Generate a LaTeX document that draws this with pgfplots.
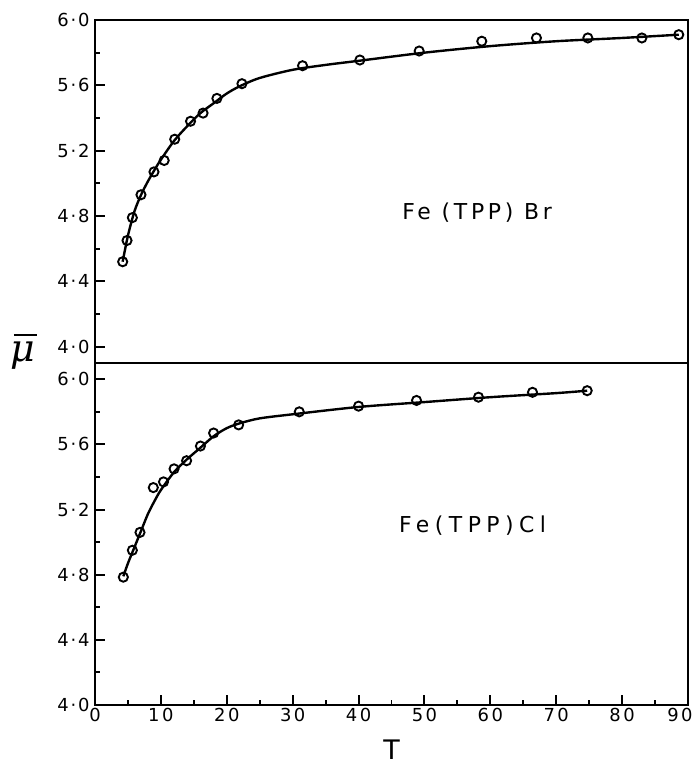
\documentclass[border=0pt]{standalone}
\usepackage{fontspec}
\setmainfont{DejaVu Sans}
\newfontfamily\serifit{DejaVu Serif}
\usepackage{pgfplots}
\pgfplotsset{compat=1.18}
\begin{document}
\begin{tikzpicture}
\useasboundingbox (-95bp,-61bp) rectangle (599bp,705bp);
\pgfplotsset{
  every axis/.append style={
    scale only axis, width=593bp, xmin=0, xmax=90,
    axis line style={line width=2.6pt},
    every tick/.style={line width=2pt, black},
    major tick length=10bp, minor tick length=5bp,
    tick align=inside,
    xticklabel style={font=\fontsize{18}{18}\selectfont\addfontfeature{LetterSpace=14}},
    yticklabel style={xshift=-2bp, font=\fontsize{18}{18}\selectfont\addfontfeature{LetterSpace=10}},
    clip=false,
    ytick={4.0,4.4,4.8,5.2,5.6,6.0},
    yticklabels={4·0,4·4,4·8,5·2,5·6,6·0},
    minor y tick num=1,
  },
  curve/.style={line width=2.4pt, black, smooth, no marks},
  pts/.style={only marks, mark=o, mark size=4.6pt, mark options={line width=1.9pt, fill=white, black}},
}
% bottom panel Fe(TPP)Cl
\begin{axis}[at={(0bp,0bp)}, anchor=south west, height=342bp,
  ymin=4.0, ymax=6.1,
  xtick={0,10,...,90}, xticklabels={0,10,20,30,40,50,60,70,80,\hspace{-16bp}90},
  minor x tick num=1,
  tick pos=left,
  xlabel={T}, xlabel style={font=\fontsize{27}{27}\selectfont, yshift=-11bp},
]
\addplot[curve] coordinates {(4.3,4.79) (5,4.87) (6,4.97) (7,5.07) (8,5.17) (9,5.25) (10,5.32) (12,5.43) (14,5.51) (16,5.58) (18,5.65) (20,5.70) (22,5.73) (25,5.76) (30,5.785) (40,5.83) (50,5.86) (60,5.89) (70,5.915) (74.7,5.93)};
\addplot[pts] coordinates {(4.3,4.785) (5.67,4.95) (6.83,5.06) (8.85,5.335) (10.4,5.37) (12.0,5.45) (13.9,5.50) (16.0,5.59) (18.0,5.67) (21.8,5.72) (31.0,5.80) (40.0,5.835) (48.8,5.87) (58.2,5.89) (66.4,5.92) (74.7,5.93)};
\node[font=\fontsize{22}{22}\selectfont] at (axis cs:57.3,5.10) {\addfontfeature{LetterSpace=25}Fe(TPP)Cl};
\end{axis}
% top panel Fe(TPP)Br
\begin{axis}[at={(0bp,342bp)}, anchor=south west, height=343bp,
  ymin=3.9, ymax=6.0,
  xtick=\empty,
  ytick pos=left,
]
\addplot[curve] coordinates {(4.2,4.52) (5,4.68) (6,4.83) (7,4.93) (8,5.01) (9,5.08) (10,5.145) (12,5.26) (14,5.35) (16,5.43) (18,5.49) (20,5.55) (22,5.595) (25,5.645) (30,5.695) (35,5.725) (40,5.75) (50,5.80) (60,5.84) (70,5.87) (80,5.89) (88.6,5.91)};
\addplot[pts] coordinates {(4.2,4.52) (4.86,4.65) (5.67,4.79) (6.98,4.93) (8.95,5.07) (10.5,5.14) (12.1,5.27) (14.5,5.38) (16.4,5.43) (18.5,5.52) (22.3,5.61) (31.5,5.72) (40.2,5.755) (49.2,5.81) (58.7,5.87) (67.0,5.89) (74.8,5.89) (83.0,5.89) (88.6,5.91)};
\node[font=\fontsize{22}{22}\selectfont] at (axis cs:58,4.82) {\addfontfeature{LetterSpace=17}Fe (TPP) Br};
\end{axis}
\node[inner sep=0pt] at (-72bp,349bp) {\fontsize{38}{38}\serifit\itshape μ};
\draw[line width=1.8bp] (-81bp,370bp) -- (-58bp,370bp);
\end{tikzpicture}
\end{document}
